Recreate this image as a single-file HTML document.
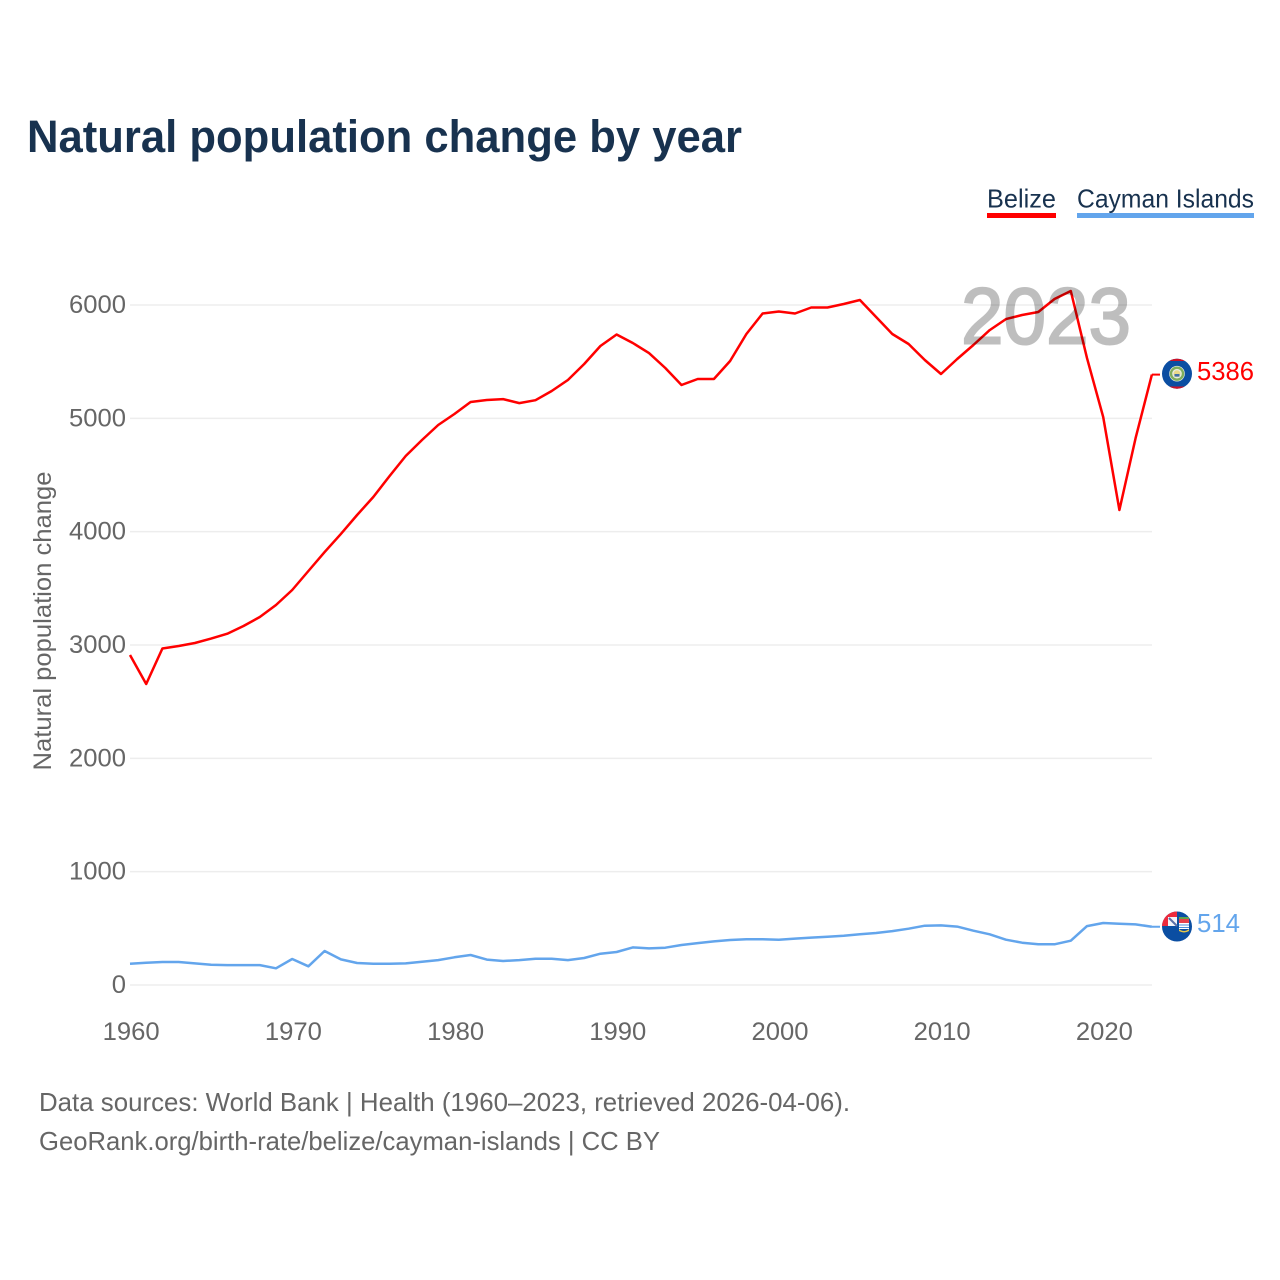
<!DOCTYPE html>
<html lang="en">
<head>
<meta charset="utf-8">
<title>Natural population change by year</title>
<style>
html,body{margin:0;padding:0;background:#fff;width:1280px;height:1280px;overflow:hidden}
svg{display:block}
text{font-family:"Liberation Sans",sans-serif}
</style>
</head>
<body>
<svg id="chart" xmlns="http://www.w3.org/2000/svg" width="1280" height="1280" viewBox="0 0 1280 1280">
  <defs>
    <clipPath id="clip-belize"><circle cx="1177" cy="373.7" r="15"/></clipPath>
    <clipPath id="clip-cayman"><circle cx="1177" cy="926.5" r="15"/></clipPath>
  </defs>
  <rect width="1280" height="1280" fill="#fff"/>
  <text x="27" y="152" font-size="45" font-weight="700" fill="#18324f" textLength="715" lengthAdjust="spacingAndGlyphs">Natural population change by year</text>

  <g>
    <g>
      <text x="987" y="207.5" font-size="26" fill="#18324f" textLength="69" lengthAdjust="spacingAndGlyphs">Belize</text>
      <rect x="987" y="213" width="69" height="5" fill="#ff0000"/>
    </g>
    <g>
      <text x="1077" y="207.5" font-size="26" fill="#18324f" textLength="177" lengthAdjust="spacingAndGlyphs">Cayman Islands</text>
      <rect x="1077" y="213" width="177" height="5" fill="#63a5ec"/>
    </g>
  </g>

  <g id="grid"></g>
  <g id="y-ticks"></g>
  <g id="x-ticks"></g>
  <text transform="translate(51 621) rotate(-90)" text-anchor="middle" font-size="25" fill="#666" textLength="299" lengthAdjust="spacingAndGlyphs">Natural population change</text>

  <g id="series"></g>

  <text x="961" y="343.5" font-size="80" fill="#000" stroke="#000" stroke-width="2" opacity="0.25" textLength="170" lengthAdjust="spacingAndGlyphs">2023</text>

  <g clip-path="url(#clip-belize)">
    <rect x="1162" y="358" width="30" height="32" fill="#0b4ea2"/>
    <rect x="1162" y="358" width="30" height="3" fill="#ce1126"/>
    <rect x="1162" y="386.5" width="30" height="3" fill="#ce1126"/>
    <circle cx="1177" cy="373.7" r="7.8" fill="#e8ede0"/>
    <circle cx="1177" cy="373.7" r="6" fill="none" stroke="#7fae5c" stroke-width="2.4"/>
    <circle cx="1177" cy="373.7" r="3.4" fill="#e8d98a"/>
    <rect x="1174.5" y="374" width="5" height="2.6" fill="#3f6fa8"/>
  </g>
  <g clip-path="url(#clip-cayman)">
    <rect x="1162" y="911" width="30" height="31" fill="#0b4ea2"/>
    <rect x="1162" y="911" width="15" height="15" fill="#ee2a3c"/>
    <rect x="1168" y="917" width="9" height="9" fill="#f4f4f8"/>
    <path d="M1169 918 L1177 926" stroke="#5a6fa8" stroke-width="2"/>
    <rect x="1179" y="917" width="10" height="2" fill="#5fa44e"/>
    <rect x="1179" y="919" width="10" height="4" fill="#e8404a"/>
    <rect x="1179" y="923" width="10" height="6" fill="#ffffff"/>
    <path d="M1179 925h10M1179 927.5h10" stroke="#4d8fd6" stroke-width="1"/>
    <path d="M1179 929 q5 4 10 0 v2 q-5 3 -10 0z" fill="#e6c64a"/>
  </g>

  <g id="end-labels"></g>

  <text x="39" y="1111" font-size="26" fill="#666" textLength="811" lengthAdjust="spacingAndGlyphs">Data sources: World Bank | Health (1960–2023, retrieved 2026-04-06).</text>
  <text x="39" y="1150" font-size="26" fill="#666" textLength="621" lengthAdjust="spacingAndGlyphs">GeoRank.org/birth-rate/belize/cayman-islands | CC BY</text>
</svg>
<script>
const firstYear = 1960;
const belizeValues = [2912,2656,2969,2991,3018,3057,3100,3168,3247,3353,3485,3653,3820,3980,4147,4306,4490,4668,4809,4941,5038,5144,5162,5170,5135,5160,5241,5338,5480,5638,5740,5665,5576,5444,5294,5347,5347,5506,5744,5925,5943,5925,5978,5978,6009,6044,5894,5744,5656,5515,5391,5524,5647,5779,5876,5912,5938,6053,6124,5532,5012,4191,4826,5386];
const caymanValues = [188,197,203,203,191,179,176,176,176,147,229,165,300,226,194,188,188,191,206,220,244,265,224,212,220,232,232,220,238,276,291,332,323,329,353,370,385,397,403,403,400,409,418,426,435,447,459,476,497,523,526,515,479,447,400,373,359,359,391,520,547,541,535,514];
const yTickValues = [0,1000,2000,3000,4000,5000,6000];
const xTickYears = [1960,1970,1980,1990,2000,2010,2020];

const NS = 'http://www.w3.org/2000/svg';
const xScale = year => 130 + (year - 1960) * 16.22;
const yScale = value => 985 - value * 0.11333;

function make(tag, parent, attrs) {
  const el = document.createElementNS(NS, tag);
  for (const k in attrs) el.setAttribute(k, attrs[k]);
  parent.appendChild(el);
  return el;
}

const gridGroup = document.getElementById('grid');
const yTickGroup = document.getElementById('y-ticks');
yTickValues.forEach(v => {
  const line = make('line', gridGroup, {x1: 130, x2: 1152, y1: yScale(v), y2: yScale(v), stroke: '#ededed', 'stroke-width': 1.5});
  
  
  const label = make('text', yTickGroup, {x: 126, y: yScale(v) + 8, 'text-anchor': 'end', 'font-size': 25, fill: '#666', textLength: String(v).length * 14.25, lengthAdjust: 'spacingAndGlyphs'});
  
  
  label.textContent = v;
});

const xTickGroup = document.getElementById('x-ticks');
xTickYears.forEach(y => {
  const label = make('text', xTickGroup, {x: xScale(y) + 1.2, y: 1040, 'text-anchor': 'middle', 'font-size': 25, fill: '#666', textLength: 57, lengthAdjust: 'spacingAndGlyphs'});
  
  
  label.textContent = y;
});

const seriesGroup = document.getElementById('series');
const labelGroup = document.getElementById('end-labels');

function drawSeries(values, color, lineName, stubName, labelName, labelWidth) {
  const pts = values.map((v, i) => xScale(firstYear + i).toFixed(1) + ',' + yScale(v).toFixed(1)).join(' ');
  const line = make('polyline', seriesGroup, {points: pts, fill: 'none', stroke: color, 'stroke-width': 2.5, 'stroke-linejoin': 'round'});
  
  
  const last = values[values.length - 1];
  const lastX = xScale(firstYear + values.length - 1);
  const stub = make('line', seriesGroup, {x1: lastX, x2: 1160, y1: yScale(last), y2: yScale(last), stroke: color, 'stroke-width': 2});
  
  
  const label = make('text', labelGroup, {x: 1197, y: yScale(last) + 5.5, 'font-size': 26, fill: color, textLength: labelWidth, lengthAdjust: 'spacingAndGlyphs'});
  
  
  label.textContent = last;
}
drawSeries(belizeValues, '#ff0000', 'belize-line', 'belize-end-connector', 'belize-end-value', 57);
drawSeries(caymanValues, '#63a5ec', 'cayman-islands-line', 'cayman-islands-end-connector', 'cayman-islands-end-value', 43);
</script>
</body>
</html>
